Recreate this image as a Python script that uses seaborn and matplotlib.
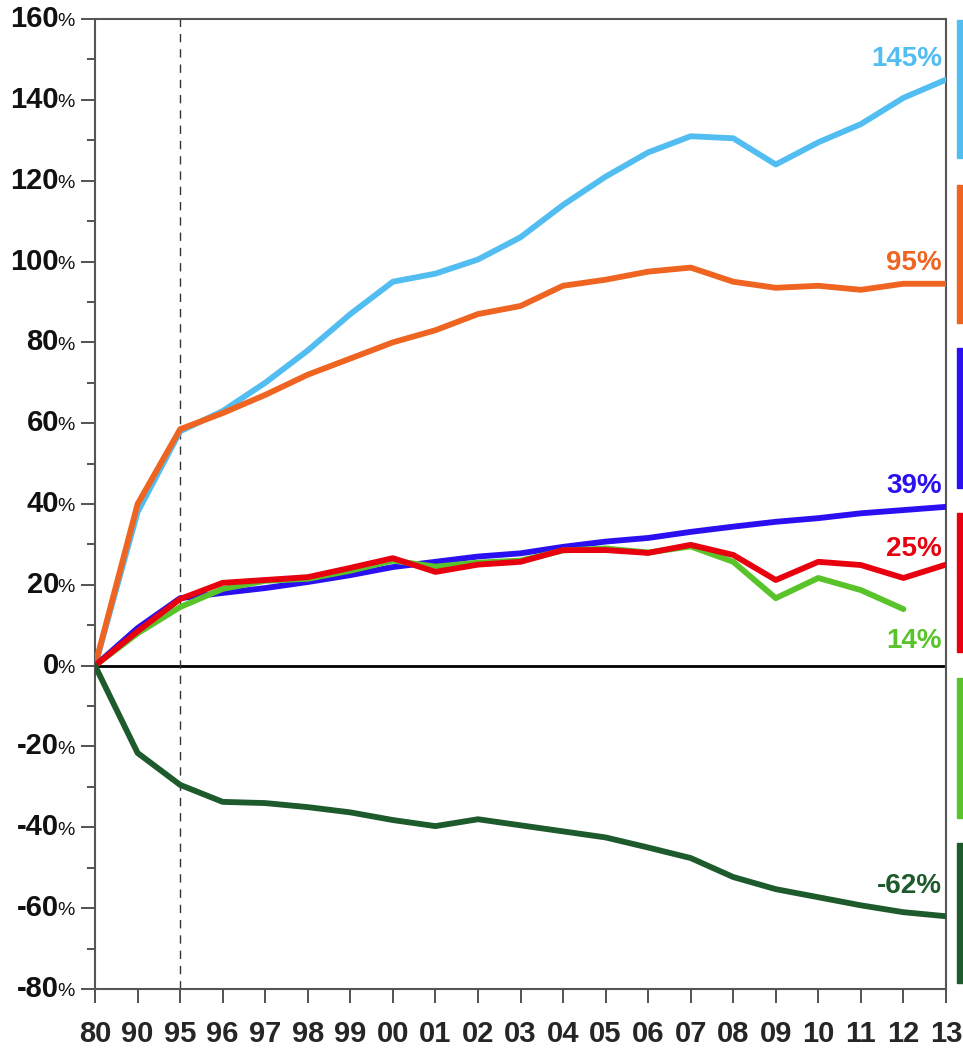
import numpy as np
import pandas as pd
import matplotlib
matplotlib.use("Agg")
import matplotlib.pyplot as plt
import seaborn as sns
from matplotlib.ticker import MultipleLocator

sns.set_style("white")
plt.rcParams['font.family'] = ['Liberation Sans', 'DejaVu Sans']

categories = ["80", "90", "95", "96", "97", "98", "99", "00", "01", "02", "03",
              "04", "05", "06", "07", "08", "09", "10", "11", "12", "13"]

light_blue = [0, 38, 58, 63, 70, 78, 87, 95, 97, 100.5, 106, 114, 121, 127, 131,
              130.5, 124, 129.5, 134, 140.5, 145]
orange = [0, 40, 58.5, 62.5, 67, 72, 76, 80, 83, 87, 89, 94, 95.5, 97.5, 98.5,
          95, 93.5, 94, 93, 94.5, 94.5]
blue = [0, 9.3, 16.7, 18, 19.2, 20.7, 22.4, 24.4, 25.7, 27, 27.8, 29.4, 30.7, 31.6,
        33.1, 34.4, 35.6, 36.5, 37.7, 38.5, 39.3]
green = [0, 8, 14.5, 19, 21, 21.5, 23.5, 26, 24.5, 25.5, 26, 28.5, 29, 28, 29.5,
         25.7, 16.7, 21.7, 18.7, 14, np.nan]
red = [0, 8.5, 16.5, 20.5, 21.2, 21.9, 24.2, 26.6, 23.2, 25, 25.7, 28.6, 28.6, 27.9,
       29.9, 27.4, 21.2, 25.7, 24.9, 21.7, 25]
dark_green = [0, -21.6, -29.5, -33.7, -34, -35, -36.3, -38.2, -39.7, -38, -39.5,
              -41, -42.5, -45, -47.6, -52.3, -55.3, -57.3, -59.3, -61, -62]

series_names = ["light_blue", "orange", "blue", "green", "red", "dark_green"]
series_values = [light_blue, orange, blue, green, red, dark_green]
end_labels = ["145%", "95%", "39%", "14%", "25%", "-62%"]
colors = {"light_blue": "#52BDF0", "orange": "#EE6420", "blue": "#2A10F0",
          "green": "#58C42A", "red": "#E8000E", "dark_green": "#1D5A2C"}

x = np.arange(len(categories))
df = pd.concat([pd.DataFrame({"x": x, "value": vals, "series": name})
                for name, vals in zip(series_names, series_values)], ignore_index=True)

fig = plt.figure(figsize=(9.63, 10.52), dpi=100)
ax = fig.add_axes([0.0987, 0.0599, 0.8836, 0.922])

ax.axhline(0, color="black", lw=2, zorder=1)
ax.axvline(2, color="#333333", lw=1, ls=(0, (6, 5)), zorder=1)

sns.lineplot(data=df, x="x", y="value", hue="series", palette=colors,
             hue_order=series_names, lw=4.2, legend=False, ax=ax, zorder=3,
             solid_joinstyle="round")

ax.set_xlim(0, len(categories) - 1)
ax.set_ylim(-80, 160)
ax.yaxis.set_major_locator(MultipleLocator(20))
ax.yaxis.set_minor_locator(MultipleLocator(10))
ax.set_xticks(x)
ax.set_xticklabels(categories, fontsize=21, fontweight="bold")
ax.set_yticklabels([])
ax.set_xlabel("")
ax.set_ylabel("")
ax.tick_params(axis="x", which="major", direction="out", length=10, width=1.3,
               color="#444444", pad=12, bottom=True)
ax.tick_params(axis="y", which="major", direction="out", length=10, width=1.3,
               color="#444444", left=True)
ax.tick_params(axis="y", which="minor", direction="out", length=6, width=1.3,
               color="#444444", left=True)
for sp in ax.spines.values():
    sp.set_color("#555555")
    sp.set_linewidth(1.5)

# y tick labels: bold number + small percent sign
for v in range(-80, 161, 20):
    ax.annotate("%", xy=(0, v), xycoords=("axes fraction", "data"),
                xytext=(-15, -2), textcoords="offset points",
                ha="right", va="center", fontsize=14, color="#111111")
    ax.annotate(str(v), xy=(0, v), xycoords=("axes fraction", "data"),
                xytext=(-26, 0), textcoords="offset points",
                ha="right", va="center", fontsize=21, fontweight="bold",
                color="#111111")

# end labels
label_offsets = [15, 15, 15, -23, 11, 22]
for name, vals, lab, off in zip(series_names, series_values, end_labels, label_offsets):
    arr = np.array(vals, dtype=float)
    last = np.where(~np.isnan(arr))[0][-1]
    ax.annotate(lab, xy=(len(categories) - 1, arr[last]),
                xytext=(-3, off), textcoords="offset points",
                xycoords="data", ha="right", va="center",
                fontsize=20, fontweight="bold", color=colors[name],
                annotation_clip=False)

# colored bars at right edge
bar_spans = [(20, 158), (185, 323), (348, 488), (513, 652), (678, 818), (843, 983)]
bar_order = ["light_blue", "orange", "blue", "red", "green", "dark_green"]
H = 1052.0
for name, (y0, y1) in zip(bar_order, bar_spans):
    fig.patches.append(plt.Rectangle((957 / 963, 1 - y1 / H), 7 / 963, (y1 - y0) / H,
                                     transform=fig.transFigure, color=colors[name],
                                     zorder=5))

fig.savefig("out.png", dpi=100)
